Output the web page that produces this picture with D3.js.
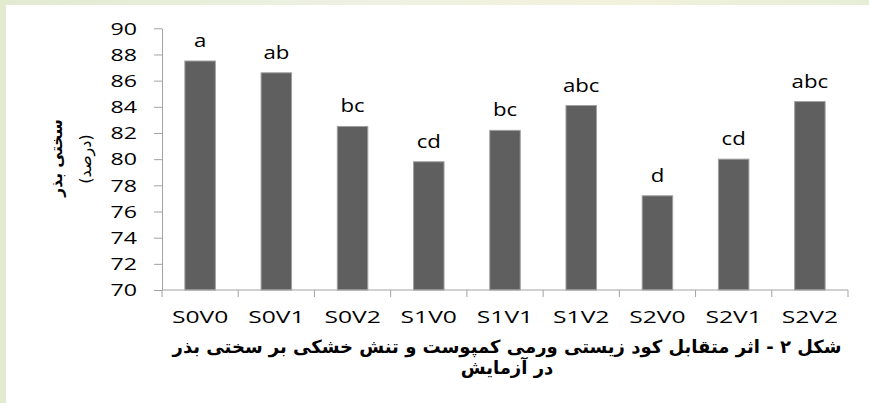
<!DOCTYPE html>
<html>
<head>
<meta charset="utf-8">
<script src="https://cdn.jsdelivr.net/npm/d3@7"></script>
<style>
  html, body { margin: 0; padding: 0; background: #ffffff; }
  svg { display: block; }
</style>
</head>
<body>
<svg id="chart" width="869" height="403"></svg>
<script>
// ---- data ----
const categories = ["S0V0", "S0V1", "S0V2", "S1V0", "S1V1", "S1V2", "S2V0", "S2V1", "S2V2"];
const values = [87.5, 86.6, 82.5, 79.8, 82.2, 84.1, 77.2, 80.0, 84.4];
const letters = ["a", "ab", "bc", "cd", "bc", "abc", "d", "cd", "abc"];
const yTicks = [70, 72, 74, 76, 78, 80, 82, 84, 86, 88, 90];
const yTitle = ["سختی بذر", "(درصد)"];
const caption = ["شکل ۲ - اثر متقابل کود زیستی ورمی کمپوست و تنش خشکی بر سختی بذر", "در آزمایش"];

const svg = d3.select("#chart");
const W = 869, H = 403;

// background frame (soft green edges like the slide background)
const defs = svg.append("defs");
const g1 = defs.append("linearGradient").attr("id", "bgGrad").attr("x1", "0").attr("y1", "0").attr("x2", "1").attr("y2", "0");
g1.append("stop").attr("offset", "0%").attr("stop-color", "#e2ead0");
g1.append("stop").attr("offset", "40%").attr("stop-color", "#eef1e2");
g1.append("stop").attr("offset", "70%").attr("stop-color", "#f1f2dc");
g1.append("stop").attr("offset", "100%").attr("stop-color", "#e8eed6");
svg.append("rect").attr("x", 0).attr("y", 0).attr("width", W).attr("height", H).attr("fill", "url(#bgGrad)");
svg.append("rect").attr("x", 6).attr("y", 5).attr("width", W - 6).attr("height", H - 5).attr("fill", "#ffffff");

// ---- scales ----
const x = d3.scaleBand().domain(categories).range([162, 848]).paddingInner(0.6).paddingOuter(0.3);
const y = d3.scaleLinear().domain([70, 90]).range([290, 28.3]);

const axisColor = "#a3a3a3";
const latinFont = "'Open Sans', sans-serif";
const arabicFont = "'DejaVu Sans', sans-serif";
const sx = 1.45;

// ---- y axis ----
const yAxis = svg.append("g").attr("transform", `translate(${x.range()[0]},0)`)
  .call(d3.axisLeft(y).tickValues(yTicks).tickSize(8).tickSizeOuter(0).tickFormat(d3.format("d")));
yAxis.select(".domain").attr("stroke", axisColor);
yAxis.selectAll(".tick line").attr("stroke", axisColor);
yAxis.selectAll(".tick text")
  .attr("x", 0).attr("dy", "0.36em")
  .attr("transform", `translate(-25,0) scale(${sx},1)`)
  .attr("fill", "#000").attr("font-size", 16).attr("font-family", latinFont)
  .attr("text-anchor", "end");

// ---- bars ----
svg.append("g").selectAll("rect").data(categories).join("rect")
  .attr("x", d => x(d))
  .attr("y", (d, i) => y(values[i]))
  .attr("width", x.bandwidth())
  .attr("height", (d, i) => y(70) - y(values[i]))
  .attr("fill", "#5f5f5f")
  .attr("stroke", "#a0a0a0")
  .attr("stroke-width", 1);

// ---- letters ----
svg.append("g").selectAll("text").data(categories).join("text")
  .attr("transform", (d, i) => `translate(${x(d) + x.bandwidth() / 2},${y(values[i]) - 14}) scale(1.2,1)`)
  .attr("text-anchor", "middle")
  .attr("font-family", latinFont).attr("font-size", 18.5).attr("fill", "#000")
  .text((d, i) => letters[i]);

// ---- x axis ----
const xAxisG = svg.append("g").attr("transform", `translate(0,${y(70)})`);
xAxisG.append("line").attr("x1", x.range()[0]).attr("x2", x.range()[1]).attr("y1", 0).attr("y2", 0).attr("stroke", axisColor);
const gap = x.step() - x.bandwidth();
const bounds = categories.map(c => x(c) - gap / 2).concat([x.range()[1]]);
xAxisG.selectAll("line.tk").data(bounds).join("line").attr("class", "tk")
  .attr("x1", d => d).attr("x2", d => d).attr("y1", 0).attr("y2", 7).attr("stroke", axisColor);
xAxisG.selectAll("text").data(categories).join("text")
  .attr("transform", d => `translate(${x(d) + x.bandwidth() / 2},33) scale(${sx},1)`)
  .attr("text-anchor", "middle")
  .attr("font-family", latinFont).attr("font-size", 17).attr("fill", "#000")
  .text(d => d);

// ---- y title ----
svg.append("text")
  .attr("transform", "translate(62,158) rotate(-90)")
  .attr("text-anchor", "middle").attr("direction", "rtl")
  .attr("font-family", arabicFont).attr("font-weight", "bold").attr("font-size", 15.5).attr("fill", "#000")
  .text(yTitle[0]);
svg.append("text")
  .attr("transform", "translate(91,159) rotate(-90)")
  .attr("text-anchor", "middle").attr("direction", "rtl")
  .attr("font-family", arabicFont).attr("font-size", 16).attr("fill", "#000")
  .text(yTitle[1]);

// ---- caption ----
caption.forEach((t, i) => {
  svg.append("text")
    .attr("transform", `translate(507,${353 + i * 21})`)
    .attr("text-anchor", "middle").attr("direction", "rtl")
    .attr("font-family", arabicFont).attr("font-weight", "bold").attr("font-size", 18).attr("fill", "#000")
    .text(t);
});
</script>
</body>
</html>
